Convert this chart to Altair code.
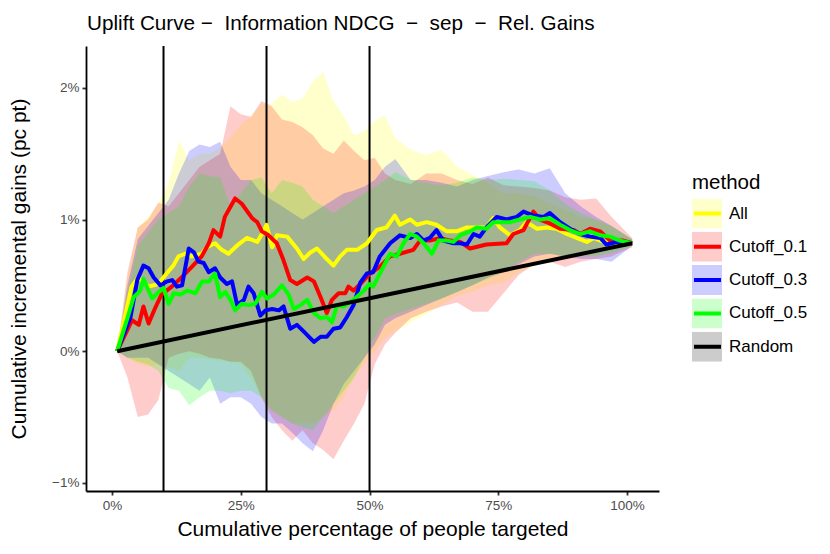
import altair as alt
import pandas as pd

METHODS = ["All", "Cutoff_0.1", "Cutoff_0.3", "Cutoff_0.5", "Random"]
COLORS = ["#FFFF00", "#FF0000", "#0000FF", "#00FF00", "#000000"]

# ---- mean curves (x in %, y in percentage points) ----
ALL_X = [1, 2.5, 3.8, 5.1, 7.1, 9, 10.6, 11.9, 12.9, 14.2, 15.5, 17.4, 18.4, 20, 21.3, 22.6, 24.5, 26.2, 28.2, 29.4,
         30, 31.1, 32, 34, 35.9, 37.2, 38.5, 39.8, 41.7, 43, 44.3, 45.6, 47.6, 49.5, 51.4, 53.3, 54.9, 55.9, 57.9, 59.2,
         61.1, 63, 65, 66.9, 68.9, 70.8, 72.7, 74, 75.3, 77.3, 79.2, 80.5, 82.5, 84.4, 86.3, 88.3, 90.2, 92.2, 93.5,
         95.4, 97.3, 99.3, 101]
ALL_Y = [0, 0.26, 0.49, 0.56, 0.49, 0.51, 0.59, 0.65, 0.72, 0.74, 0.72, 0.74, 0.79, 0.82, 0.77, 0.74, 0.81, 0.86, 0.83,
         0.91, 0.96, 0.79, 0.88, 0.87, 0.78, 0.70, 0.75, 0.78, 0.70, 0.65, 0.72, 0.77, 0.77, 0.82, 0.92, 0.94, 1.03,
         0.96, 1.0, 0.96, 0.98, 0.96, 0.91, 0.91, 0.94, 0.94, 0.94, 1.01, 0.94, 0.88, 0.92, 0.98, 0.93, 0.94, 0.93,
         0.89, 0.86, 0.83, 0.86, 0.83, 0.84, 0.83, 0.82]

C01_X = [1, 3.9, 5.2, 6.1, 7.1, 8.4, 9.6, 11.6, 13.5, 15.5, 17.4, 18.8, 19.7, 21, 21.9, 23.9, 25.2, 27.2, 28.2, 29.1,
         30.4, 32, 33.3, 34.6, 35.9, 37.9, 39.2, 40.5, 41.7, 42.7, 44, 45.3, 45.9, 46.9, 48.2, 50.1, 52, 54, 55.9,
         58.5, 59.8, 61.7, 63.7, 65.6, 67.6, 69.5, 72.7, 76.6, 77.9, 79.9, 81.8, 83.1, 85, 87, 89.6, 90.9, 92.8, 94.8,
         96.7, 99.3, 101]
C01_Y = [0, 0.235, 0.2, 0.34, 0.21, 0.33, 0.43, 0.49, 0.56, 0.64, 0.72, 0.82, 0.92, 0.87, 1.02, 1.16, 1.12, 1.01, 0.98,
         0.91, 0.88, 0.82, 0.69, 0.54, 0.51, 0.56, 0.53, 0.41, 0.29, 0.39, 0.44, 0.44, 0.49, 0.46, 0.51, 0.59, 0.64,
         0.72, 0.74, 0.77, 0.84, 0.84, 0.86, 0.84, 0.83, 0.78, 0.81, 0.82, 0.89, 0.92, 1.06, 1.0, 0.97, 0.93, 0.92,
         0.89, 0.93, 0.91, 0.84, 0.84, 0.82]

C03_X = [1, 3.6, 4.9, 6.1, 7.1, 8.1, 9.4, 10.7, 11.7, 12.6, 13.6, 14.9, 15.9, 16.8, 17.8, 18.8, 20, 21, 22.3, 23.3,
         24.3, 25.6, 26.5, 27.5, 28.8, 29.8, 31.1, 32.4, 33.3, 34.6, 35.9, 37.2, 39.2, 40.5, 41.7, 43, 44.3, 45.6,
         46.9, 48.2, 49.5, 50.7, 52, 54, 55.9, 57.9, 59.2, 60.5, 61.7, 63, 64.3, 66.3, 67.6, 68.9, 70.2, 71.4, 72.7,
         74.7, 76.6, 78.6, 79.9, 81.8, 83.8, 85, 87, 88.9, 90.9, 92.8, 94.8, 96, 98, 99.5, 101]
C03_Y = [0, 0.26, 0.54, 0.65, 0.63, 0.56, 0.5, 0.53, 0.54, 0.49, 0.5, 0.78, 0.75, 0.68, 0.67, 0.6, 0.63, 0.56, 0.51,
         0.53, 0.35, 0.39, 0.49, 0.44, 0.27, 0.31, 0.32, 0.31, 0.34, 0.17, 0.2, 0.15, 0.07, 0.11, 0.11, 0.17, 0.18,
         0.26, 0.35, 0.52, 0.59, 0.6, 0.72, 0.82, 0.88, 0.86, 0.89, 0.84, 0.86, 0.92, 0.84, 0.82, 0.82, 0.81, 0.89,
         0.87, 0.94, 1.02, 1.0, 1.02, 1.06, 1.03, 1.02, 1.05, 0.98, 0.93, 0.89, 0.87, 0.86, 0.81, 0.83, 0.83, 0.82]

C05_X = [1, 2.9, 4.2, 5.5, 6.1, 7.1, 7.8, 9.1, 10, 11, 12, 13.3, 14.6, 16.2, 17.5, 18.8, 20, 21, 22, 23, 23.9, 25.2,
         26.5, 27.8, 29.1, 30.1, 31.4, 33, 34.3, 35.3, 36.6, 37.9, 39.2, 40.5, 41.7, 42.7, 43.7, 45, 46.9, 48.9, 50,
         50.7, 52, 54, 55.3, 56.6, 57.9, 59.2, 60.5, 62.1, 63.4, 65, 66.3, 67.6, 69.5, 70.8, 72.7, 74, 75.3, 77.3,
         79.2, 81.2, 83.1, 85, 87, 88.9, 90.9, 92.8, 94.8, 96.7, 98.6, 101]
C05_Y = [0, 0.24, 0.41, 0.46, 0.55, 0.46, 0.4, 0.45, 0.48, 0.36, 0.44, 0.43, 0.46, 0.44, 0.53, 0.53, 0.59, 0.41, 0.45,
         0.39, 0.31, 0.36, 0.35, 0.36, 0.45, 0.4, 0.43, 0.5, 0.43, 0.32, 0.35, 0.39, 0.29, 0.25, 0.26, 0.22, 0.35,
         0.34, 0.39, 0.46, 0.51, 0.49, 0.59, 0.74, 0.72, 0.82, 0.89, 0.87, 0.82, 0.74, 0.84, 0.84, 0.83, 0.88, 0.91,
         0.94, 0.93, 0.98, 0.98, 0.98, 1.0, 1.02, 1.0, 1.01, 0.96, 0.92, 0.89, 0.91, 0.88, 0.87, 0.84, 0.82]

RANDOM_X = [1, 101]
RANDOM_Y = [0, 0.82]

# ---- confidence ribbons on a common grid ----
GRID_X = [1, 3, 5, 7, 9, 11, 13, 15, 17, 19, 21, 23, 25, 27, 29, 31, 33, 35, 37, 39, 41, 43, 45, 47, 49, 51, 53, 55,
          58, 61, 64, 67, 70, 73, 76, 79, 82, 85, 88, 91, 94, 97, 101]
ALL_HI = [0.0, 0.55, 0.94, 1.02, 1.12, 1.28, 1.6, 1.45, 1.5, 1.5, 1.55, 1.62, 1.72, 1.78, 1.88, 1.88, 1.95, 1.89, 1.92,
          2.05, 2.12, 1.9, 1.78, 1.64, 1.67, 1.75, 1.79, 1.62, 1.53, 1.49, 1.53, 1.4, 1.34, 1.28, 1.2, 1.2, 1.18, 1.12,
          1.08, 1.02, 1.0, 0.95, 0.85]
ALL_LO = [0.0, -0.05, -0.1, -0.12, -0.1, -0.12, -0.15, -0.05, -0.05, -0.06, -0.07, -0.08, -0.1, -0.2, -0.35, -0.45,
          -0.5, -0.55, -0.55, -0.55, -0.5, -0.45, -0.35, -0.2, -0.1, 0.0, 0.1, 0.15, 0.22, 0.28, 0.35, 0.42, 0.45, 0.5,
          0.52, 0.6, 0.65, 0.68, 0.7, 0.72, 0.73, 0.76, 0.8]
C01_HI = [0.0, 0.6, 0.94, 1.0, 1.13, 1.1, 1.2, 1.3, 1.4, 1.45, 1.5, 1.86, 1.8, 1.78, 1.9, 1.86, 1.76, 1.74, 1.7, 1.64,
          1.54, 1.5, 1.6, 1.52, 1.45, 1.47, 1.35, 1.3, 1.27, 1.35, 1.35, 1.3, 1.27, 1.32, 1.26, 1.25, 1.24, 1.22, 1.17,
          1.15, 1.16, 1.02, 0.86]
C01_LO = [0.0, -0.2, -0.5, -0.48, -0.37, -0.05, -0.02, 0.0, -0.02, -0.05, -0.06, -0.08, -0.08, -0.15, -0.35, -0.5,
          -0.6, -0.68, -0.6, -0.7, -0.75, -0.82, -0.68, -0.55, -0.4, -0.1, 0.05, 0.14, 0.25, 0.3, 0.34, 0.37, 0.3, 0.3,
          0.44, 0.58, 0.66, 0.68, 0.64, 0.68, 0.7, 0.72, 0.79]
C03_HI = [0.0, 0.5, 0.85, 0.95, 1.05, 1.15, 1.35, 1.52, 1.57, 1.55, 1.59, 1.4, 1.3, 1.3, 1.2, 1.15, 1.1, 1.05, 1.0,
          1.05, 1.1, 1.15, 1.2, 1.22, 1.25, 1.3, 1.4, 1.46, 1.3, 1.3, 1.28, 1.25, 1.3, 1.33, 1.36, 1.38, 1.35, 1.39,
          1.2, 1.1, 1.02, 0.95, 0.85]
C03_LO = [0.0, -0.05, -0.05, -0.05, -0.1, -0.15, -0.2, -0.25, -0.3, -0.2, -0.4, -0.35, -0.35, -0.4, -0.5, -0.55,
          -0.55, -0.62, -0.7, -0.76, -0.6, -0.4, -0.25, -0.15, -0.05, 0.05, 0.2, 0.25, 0.3, 0.35, 0.4, 0.45, 0.5,
          0.56, 0.6, 0.66, 0.72, 0.74, 0.72, 0.7, 0.7, 0.68, 0.8]
C05_HI = [0.0, 0.45, 0.8, 0.9, 1.0, 1.05, 1.1, 1.25, 1.35, 1.33, 1.32, 1.1, 1.2, 1.3, 1.32, 1.2, 1.3, 1.28, 1.25,
          1.15, 1.1, 1.05, 1.1, 1.15, 1.2, 1.25, 1.3, 1.36, 1.3, 1.28, 1.26, 1.28, 1.32, 1.3, 1.31, 1.3, 1.29, 1.22,
          1.12, 1.05, 1.0, 0.95, 0.85]
C05_LO = [0.0, -0.05, -0.08, -0.1, -0.15, -0.28, -0.3, -0.41, -0.35, -0.3, -0.3, -0.32, -0.3, -0.3, -0.35, -0.45,
          -0.5, -0.55, -0.58, -0.6, -0.5, -0.4, -0.3, -0.2, -0.05, 0.1, 0.25, 0.28, 0.32, 0.36, 0.4, 0.45, 0.5, 0.55,
          0.6, 0.68, 0.74, 0.74, 0.72, 0.72, 0.72, 0.74, 0.8]

VLINES = [10, 30, 50]
X_TICKS = [0, 25, 50, 75, 100]
Y_TICKS = [-1, 0, 1, 2]

FONT = "Liberation Sans"

# ---- tables ----
line_parts = []
for name, xs, ys in [("All", ALL_X, ALL_Y), ("Cutoff_0.1", C01_X, C01_Y), ("Cutoff_0.3", C03_X, C03_Y),
                     ("Cutoff_0.5", C05_X, C05_Y), ("Random", RANDOM_X, RANDOM_Y)]:
    line_parts.append(pd.DataFrame({"x": xs, "y": ys, "method": name}))
lines_df = pd.concat(line_parts, ignore_index=True)

rib_parts = []
for name, lo, hi in [("All", ALL_LO, ALL_HI), ("Cutoff_0.1", C01_LO, C01_HI), ("Cutoff_0.3", C03_LO, C03_HI),
                     ("Cutoff_0.5", C05_LO, C05_HI)]:
    rib_parts.append(pd.DataFrame({"x": GRID_X, "lo": lo, "hi": hi, "method": name}))
rib_parts.append(pd.DataFrame({"x": RANDOM_X, "lo": RANDOM_Y, "hi": RANDOM_Y, "method": "Random"}))
ribbons_df = pd.concat(rib_parts, ignore_index=True)

vlines_df = pd.DataFrame({"x": VLINES})

x_scale = alt.Scale(domain=[-5.05, 106.2], nice=False, zero=False)
y_scale = alt.Scale(domain=[-1.062, 2.318], nice=False, zero=False)

x_axis = alt.Axis(values=X_TICKS, format="d", labelExpr="datum.label + '%'",
                  labelFontSize=13.5, labelColor="#4D4D4D", labelFont=FONT,
                  title="Cumulative percentage of people targeted",
                  titleX=286.5, titleY=38, titleBaseline="middle")
y_axis = alt.Axis(values=Y_TICKS, format="d", labelExpr="datum.label + '%'",
                  labelFontSize=13.5, labelColor="#4D4D4D", labelFont=FONT,
                  title="Cumulative incremental gains (pc pt)",
                  titleX=-67, titleY=222.5, titleAngle=-90, titleBaseline="middle")

LEG_X, LEG_Y = 606, 127

fill_legend = alt.Legend(title="method", orient="none", legendX=LEG_X, legendY=LEG_Y, padding=0,
                         symbolType="square", symbolSize=900, symbolOpacity=0.2, symbolStrokeWidth=0,
                         labelOpacity=0, clipHeight=30, rowPadding=3.3, titlePadding=5,
                         titleFontSize=20.5, titleFont=FONT, titleFontWeight="normal", titleColor="black",
                         labelFontSize=17, labelFont=FONT, labelOffset=6)
stroke_legend = alt.Legend(title="method", orient="none", legendX=LEG_X, legendY=LEG_Y, padding=0,
                           symbolType="stroke", symbolSize=729, symbolStrokeWidth=4, symbolOpacity=1,
                           clipHeight=30, rowPadding=3.3, titlePadding=5,
                           titleFontSize=20.5, titleFont=FONT, titleFontWeight="normal", titleOpacity=0,
                           labelFontSize=17, labelFont=FONT, labelColor="black", labelOffset=6)

ribbons = alt.Chart(ribbons_df).mark_area(opacity=0.2).encode(
    x=alt.X("x:Q", scale=x_scale, axis=x_axis),
    y=alt.Y("lo:Q", scale=y_scale, axis=y_axis),
    y2="hi:Q",
    fill=alt.Fill("method:N", sort=METHODS, scale=alt.Scale(range=COLORS), legend=fill_legend),
)

rules = alt.Chart(vlines_df).mark_rule(color="black", strokeWidth=2).encode(
    x=alt.X("x:Q", scale=x_scale)
)

lines = alt.Chart(lines_df).mark_line(strokeWidth=4, strokeJoin="round", strokeCap="butt").encode(
    x=alt.X("x:Q", scale=x_scale),
    y=alt.Y("y:Q", scale=y_scale),
    stroke=alt.Stroke("method:N", sort=METHODS, scale=alt.Scale(range=COLORS), legend=stroke_legend),
)

title = alt.TitleParams(
    text="Uplift Curve \u2212\u00a0 Information NDCG \u00a0\u2212\u00a0 sep \u00a0\u2212\u00a0 Rel. Gains",
    anchor="start", frame="group", fontSize=20.7, font=FONT, fontWeight="normal", color="black",
    baseline="alphabetic", offset=-6, dx=1,
)

chart = alt.layer(ribbons, rules, lines).properties(
    width=573, height=445, title=title,
    padding={"left": 78, "top": 38, "right": 163, "bottom": 55},
    autosize=alt.AutoSizeParams(type="none"),
).configure(background="white").configure_view(stroke=None).configure_axis(
    grid=False, domainColor="black", domainWidth=1.8, tickColor="#333333", tickWidth=1.8, tickSize=4,
    labelColor="#4D4D4D", labelFontSize=13.5, labelFont=FONT, labelPadding=3,
    titleFont=FONT, titleFontSize=21, titleFontWeight="normal", titleColor="black",
)

chart.save("out.html", embed_options={"renderer": "svg", "actions": False})
